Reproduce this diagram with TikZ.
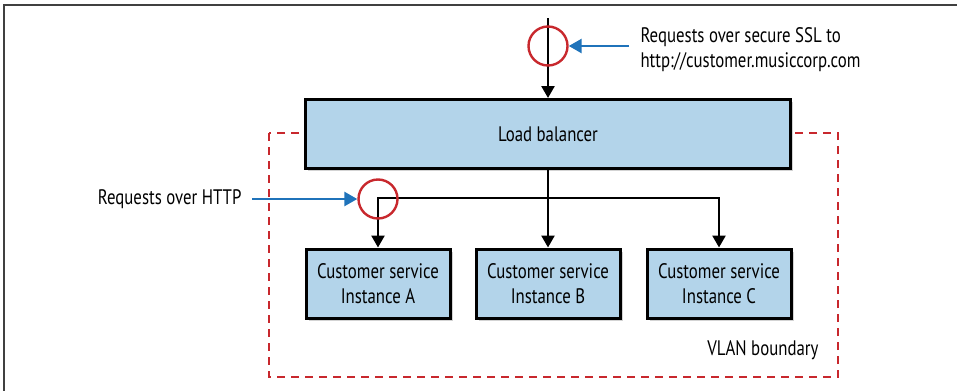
\documentclass[tikz,border=0pt]{standalone}
\usepackage{fontspec}
\setmainfont{PT Sans}[FakeStretch=0.8]
\usetikzlibrary{arrows.meta,shadows}

\definecolor{boxblue}{HTML}{B3D4EA}
\definecolor{ringred}{HTML}{C8282D}
\definecolor{callblue}{HTML}{1F73BA}
\definecolor{framegray}{HTML}{404040}

\begin{document}
\begin{tikzpicture}[x=1pt, y=-1pt,
  font=\fontsize{21}{25}\selectfont,
  svcbox/.style={draw=black, line width=3pt, fill=boxblue, inner sep=0pt,
    align=center, drop shadow={opacity=0.35, shadow xshift=2.5pt, shadow yshift=-2.5pt}},
  ring/.style={draw=ringred, line width=2.4pt, circle, minimum size=39pt, inner sep=0pt},
  flow/.style={draw=black, line width=2.5pt, -{Triangle[length=12pt,width=13pt]}},
  callout/.style={draw=callblue, line width=2.6pt, -{Triangle[length=13pt,width=14pt]}}]

\useasboundingbox (0,0) rectangle (957,391);

% page frame
\draw[framegray, line width=2.2pt] (957,5) -- (4,5) -- (4,391);

% vlan boundary
\draw[ringred, line width=2.4pt, dash pattern=on 8pt off 6pt] (269,133) rectangle (838,377);
\node[anchor=east] (vlan) at (822,350) {VLAN boundary};

% boxes
\node[svcbox, minimum width=485pt, minimum height=69pt] (lb) at (548,134) {Load balancer};
\node[svcbox, minimum width=144pt, minimum height=69pt] (instA) at (378,283.5) {Customer service\\Instance A};
\node[svcbox, minimum width=144pt, minimum height=69pt] (instB) at (548,283.5) {Customer service\\Instance B};
\node[svcbox, minimum width=144pt, minimum height=69pt] (instC) at (719,283.5) {Customer service\\Instance C};

% request flow
\coordinate (entry) at (548,18);
\coordinate (bus) at (548,198);
\draw[flow] (entry) -- (lb);
\draw[draw=black, line width=2.5pt] (lb) -- (bus);
\draw[flow] (bus) -| (instA);
\draw[flow] (bus) -- (instB);
\draw[flow] (bus) -| (instC);

% rings and callouts
\node[ring] (sslring) at (548,46) {};
\node[ring] (httpring) at (378,199) {};

\node[anchor=west, align=left] (ssltext) at (637,50) {Requests over secure SSL to\\http://customer.musiccorp.com};
\node[anchor=east] (httptext) at (245,199) {Requests over HTTP};

\coordinate (sslstart) at (629,46);
\coordinate (httpstart) at (252,199);
\draw[callout] (sslstart) -- (sslring);
\draw[callout] (httpstart) -- (httpring);

\end{tikzpicture}
\end{document}
